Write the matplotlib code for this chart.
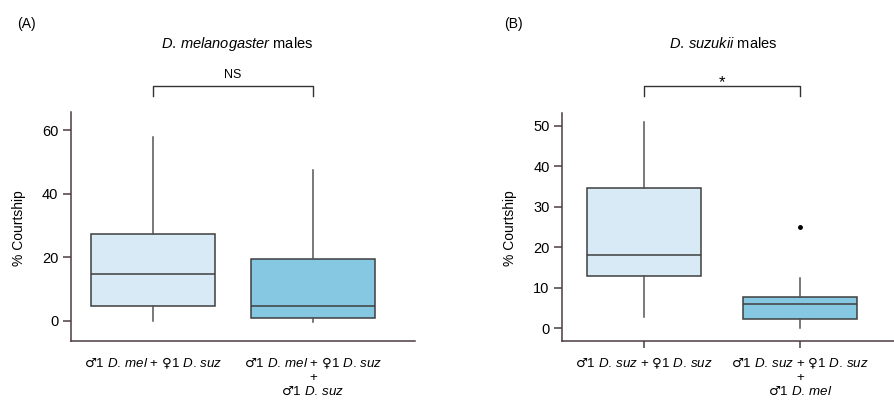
import matplotlib.pyplot as plt
import matplotlib.transforms as mtransforms

plt.rcParams['font.family'] = ['Liberation Sans', 'DejaVu Sans']
plt.rcParams['mathtext.fontset'] = 'custom'
plt.rcParams['mathtext.rm'] = 'Liberation Sans'
plt.rcParams['mathtext.it'] = 'Liberation Sans:italic'
plt.rcParams['mathtext.sf'] = 'DejaVu Sans'

# box statistics: whislo, q1, med, q3, whishi
mel_stats = [
    [0.0, 4.7, 14.8, 27.3, 58.0],
    [-0.3, 1.0, 4.7, 19.5, 47.6],
]
suz_stats = [
    [2.7, 13.0, 18.0, 34.6, 51.0],
    [0.0, 2.2, 6.0, 7.7, 12.3],
]
suz_fliers = [[], [25.0]]

M = r"$\mathsf{♂}$"
F = r"$\mathsf{♀}$"
MEL = r"$\mathit{D.\,mel}$"
SUZ = r"$\mathit{D.\,suz}$"

mel_labels = [
    [f"{M}1 {MEL} + {F}1 {SUZ}"],
    [f"{M}1 {MEL} + {F}1 {SUZ}", "+", f"{M}1 {SUZ}"],
]
suz_labels = [
    [f"{M}1 {SUZ} + {F}1 {SUZ}"],
    [f"{M}1 {SUZ} + {F}1 {SUZ}", "+", f"{M}1 {MEL}"],
]
box_colors = ["#d8eaf5", "#86c8e1"]

spine_col = "#4a3d41"
edge_col = "#3e3e3e"

fig = plt.figure(figsize=(8.94, 4.0), dpi=100)


def make_stats(rows, fliers=None):
    out = []
    for i, (lo, q1, med, q3, hi) in enumerate(rows):
        out.append(dict(whislo=lo, q1=q1, med=med, q3=q3, whishi=hi,
                        fliers=fliers[i] if fliers else []))
    return out


def draw_panel(ax, rows, fliers, width):
    bp = ax.bxp(make_stats(rows, fliers), positions=[1, 2], widths=width,
                patch_artist=True, showcaps=False,
                boxprops=dict(edgecolor=edge_col, linewidth=1.1),
                medianprops=dict(color=edge_col, linewidth=1.1),
                whiskerprops=dict(color="#555555", linewidth=1.1),
                flierprops=dict(marker="o", markersize=2.5,
                                markerfacecolor="black", markeredgecolor="black"))
    for patch, c in zip(bp["boxes"], box_colors):
        patch.set_facecolor(c)
    for side in ["top", "right"]:
        ax.spines[side].set_visible(False)
    for side in ["left", "bottom"]:
        ax.spines[side].set_color(spine_col)
        ax.spines[side].set_linewidth(1.1)
    ax.tick_params(axis="y", length=6, width=1.1, color=spine_col,
                   labelsize=10.5, pad=3)
    ax.set_xticklabels([])


def draw_labels(ax, labels):
    tr = mtransforms.blended_transform_factory(ax.transData, fig.transFigure)
    ys = [1 - 363 / 400, 1 - 378 / 400, 1 - 392 / 400]
    for x, lines in zip([1, 2], labels):
        for y, line in zip(ys, lines):
            ax.text(x, y, line, transform=tr, ha="center", va="center",
                    fontsize=9.6)


# (A) D. melanogaster males
ax1 = fig.add_axes([71 / 894, 59 / 400, 344 / 894, 229 / 400])
draw_panel(ax1, mel_stats, None, 0.77)
ax1.set_xlim(0.4875, 2.6375)
ax1.set_ylim(-6.3, 65.8)
ax1.set_yticks([0, 20, 40, 60])
ax1.tick_params(axis="x", length=0)
draw_labels(ax1, mel_labels)
ax1.plot([1, 1, 2, 2], [70.9, 74.0, 74.0, 70.9], color="#333333",
         linewidth=1.0, clip_on=False)
ax1.text(1.5, 77.4, "NS", ha="center", va="center", fontsize=9)

# (B) D. suzukii males
ax2 = fig.add_axes([562 / 894, 59 / 400, 332 / 894, 228 / 400])
draw_panel(ax2, suz_stats, suz_fliers, 0.73)
ax2.set_xlim(0.474, 2.603)
ax2.set_ylim(-3.2, 53.2)
ax2.set_yticks([0, 10, 20, 30, 40, 50])
ax2.tick_params(axis="x", length=5, width=1.1, color=spine_col)
draw_labels(ax2, suz_labels)
ax2.plot([1, 1, 2, 2], [57.4, 59.9, 59.9, 57.4], color="#333333",
         linewidth=1.0, clip_on=False)
ax2.text(1.5, 60.8, "*", ha="center", va="center", fontsize=12)

fig.text(26 / 894, 1 - 24 / 400, "(A)", ha="center", va="center", fontsize=10)
fig.text(513 / 894, 1 - 24 / 400, "(B)", ha="center", va="center", fontsize=10)
fig.text(237 / 894, 1 - 44 / 400, r"$\mathit{D.\,melanogaster}$ males",
         ha="center", va="center", fontsize=10.5)
fig.text(723 / 894, 1 - 44 / 400, r"$\mathit{D.\,suzukii}$ males",
         ha="center", va="center", fontsize=10.5)
fig.text(19 / 894, 1 - 228 / 400, "% Courtship", rotation=90,
         ha="center", va="center", fontsize=10)
fig.text(510 / 894, 1 - 228 / 400, "% Courtship", rotation=90,
         ha="center", va="center", fontsize=10)

fig.savefig("out.png", dpi=100)
